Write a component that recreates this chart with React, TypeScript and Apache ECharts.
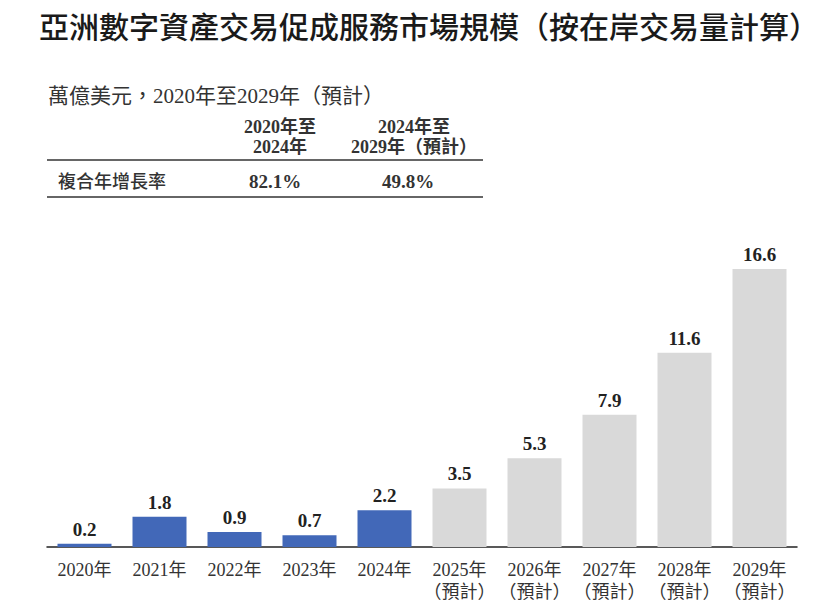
import React, { useEffect, useRef } from "react";
import * as echarts from "echarts";

const titleText = "亞洲數字資產交易促成服務市場規模（按在岸交易量計算）";
const unitText = "萬億美元，2020年至2029年（預計）";
const tableHeaders = ["2020年至\n2024年", "2024年至\n2029年（預計）"];
const tableRowLabel = "複合年增長率";
const cagrValues = ["82.1%", "49.8%"];

const years = ["2020年", "2021年", "2022年", "2023年", "2024年", "2025年", "2026年", "2027年", "2028年", "2029年"];
const values = [0.2, 1.8, 0.9, 0.7, 2.2, 3.5, 5.3, 7.9, 11.6, 16.6];
const isForecast = [false, false, false, false, false, true, true, true, true, true];
const forecastNote = "（預計）";

const SERIF = "Liberation Serif, Noto Sans CJK TC, serif";
const SANS = "Noto Sans CJK TC, Noto Sans, sans-serif";

export default function App() {
  const ref = useRef<HTMLDivElement>(null);
  useEffect(() => {
    if (!ref.current) return;
    const chart = echarts.init(ref.current, undefined, { renderer: "svg" });
    const categories = years.map((y, i) => (isForecast[i] ? y + "\n" + forecastNote : y));
    chart.setOption({
      animation: false,
      backgroundColor: "#ffffff",
      grid: { left: 47, right: 31, top: 269, bottom: 62, containLabel: false },
      xAxis: {
        type: "category",
        data: categories,
        axisLine: { show: true, lineStyle: { color: "#222", width: 1.5 } },
        axisTick: { show: false },
        axisLabel: {
          interval: 0,
          margin: 12,
          fontSize: 18,
          lineHeight: 22,
          fontFamily: SERIF,
          color: "#333",
        },
      },
      yAxis: {
        type: "value",
        min: 0,
        max: 16.6,
        show: false,
        splitLine: { show: false },
      },
      series: [
        {
          type: "bar",
          barWidth: 54,
          data: values.map((v, i) => ({
            value: v,
            itemStyle: { color: isForecast[i] ? "#d9d9d9" : "#4268b8" },
          })),
          label: {
            show: true,
            position: "top",
            distance: 5,
            fontSize: 19,
            fontWeight: "bold",
            fontFamily: SERIF,
            color: "#222",
            formatter: (p: any) => p.value.toFixed(1),
          },
        },
      ],
      graphic: [
        {
          type: "text",
          x: 429,
          y: 25,
          style: {
            text: titleText,
            align: "center",
            verticalAlign: "middle",
            fontSize: 30,
            fontWeight: 500,
            fontFamily: SANS,
            fill: "#1a1a1a",
          },
        },
        {
          type: "text",
          x: 48,
          y: 96,
          style: {
            text: unitText,
            align: "left",
            verticalAlign: "middle",
            fontSize: 21,
            fontFamily: SERIF,
            fill: "#333",
          },
        },
        {
          type: "text",
          x: 280,
          y: 137,
          style: {
            text: tableHeaders[0],
            align: "center",
            verticalAlign: "middle",
            fontSize: 18,
            lineHeight: 20,
            fontWeight: "bold",
            fontFamily: SERIF,
            fill: "#333",
          },
        },
        {
          type: "text",
          x: 414,
          y: 137,
          style: {
            text: tableHeaders[1],
            align: "center",
            verticalAlign: "middle",
            fontSize: 18,
            lineHeight: 20,
            fontWeight: "bold",
            fontFamily: SERIF,
            fill: "#333",
          },
        },
        {
          type: "line",
          shape: { x1: 47, y1: 160, x2: 483, y2: 160 },
          style: { stroke: "#333", lineWidth: 1.5 },
        },
        {
          type: "text",
          x: 58,
          y: 180,
          style: {
            text: tableRowLabel,
            align: "left",
            verticalAlign: "middle",
            fontSize: 18,
            fontWeight: 500,
            fontFamily: SANS,
            fill: "#333",
          },
        },
        {
          type: "text",
          x: 275,
          y: 181,
          style: {
            text: cagrValues[0],
            align: "center",
            verticalAlign: "middle",
            fontSize: 19,
            fontWeight: "bold",
            fontFamily: SERIF,
            fill: "#333",
          },
        },
        {
          type: "text",
          x: 408,
          y: 181,
          style: {
            text: cagrValues[1],
            align: "center",
            verticalAlign: "middle",
            fontSize: 19,
            fontWeight: "bold",
            fontFamily: SERIF,
            fill: "#333",
          },
        },
        {
          type: "line",
          shape: { x1: 47, y1: 197, x2: 483, y2: 197 },
          style: { stroke: "#333", lineWidth: 1.5 },
        },
      ],
    });
    return () => chart.dispose();
  }, []);
  return (
    <div
      ref={ref}
      style={{ position: "absolute", left: 0, top: 0, width: 828, height: 609 }}
    />
  );
}
